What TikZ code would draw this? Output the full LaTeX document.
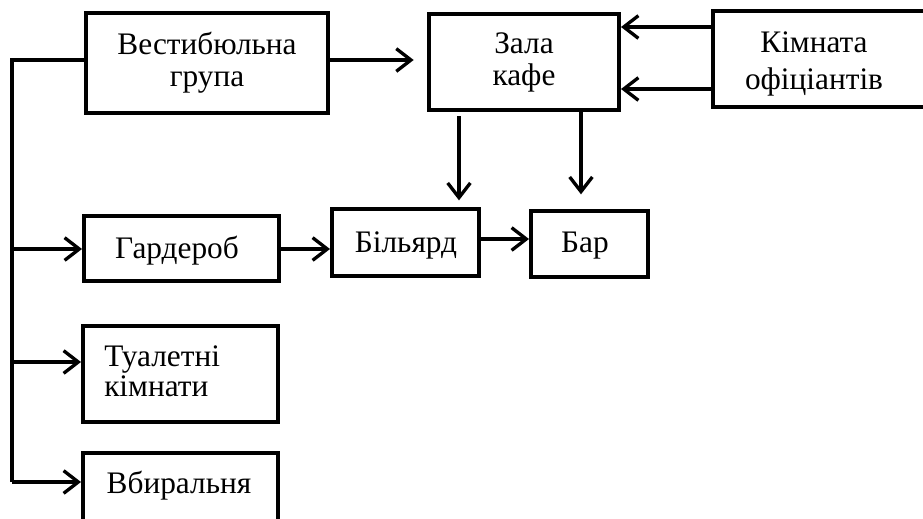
\documentclass[tikz,border=0pt]{standalone}
\usepackage{fontspec}
\setmainfont{Liberation Serif}
\usetikzlibrary{arrows.meta,calc}
\begin{document}
\begin{tikzpicture}[x=0.75pt,y=-0.75pt,
  box/.style={draw,line width=3pt,rectangle,inner sep=0pt,align=center,
    font=\fontsize{23.5}{24}\selectfont},
  lbl/.style={inner sep=0pt,font=\fontsize{23.5}{24}\selectfont},
  conn/.style={line width=2.5pt},
  arr/.style={line width=2.5pt,-{Straight Barb[length=11pt,width=17pt,line width=2.5pt]}}]
\useasboundingbox (0,0) rectangle (923,518);
\clip (0,0) rectangle (923,518);
\fill[white] (0,0) rectangle (923,518);
% boxes
\node[box,minimum width=181.5pt,minimum height=75pt] (vest) at (207,63) {Вестибюльна\\група};
\node[box,minimum width=142.5pt,minimum height=72pt] (zala) at (524,62) {Зала\\кафе};
\node[box,minimum width=185.25pt,minimum height=72pt] (kimn) at (836.5,59) {};
\node[lbl,align=center] (kimnt) at (814,64) {Кімната\\[3.5pt]офіціантів};
\node[box,minimum width=146.25pt,minimum height=48.75pt] (gard) at (181.5,248.5) {};
\node[lbl,anchor=base] (gardt) at (177,258) {Гардероб};
\node[box,minimum width=146.25pt,minimum height=72pt] (tual) at (180.5,374) {};
\node[lbl,align=left,anchor=west] (tualt) at (104,371) {Туалетні\\[-1.5pt]кімнати};
\node[box,minimum width=146.25pt,minimum height=65.25pt] (vbyr) at (180.5,496.5) {};
\node[lbl,anchor=base] (vbyrt) at (179,493) {Вбиральня};
\node[box,minimum width=110.25pt,minimum height=50.25pt] (bil) at (405.5,242.5) {};
\node[lbl,anchor=base] (bilt) at (406,252) {Більярд};
\node[box,minimum width=87.75pt,minimum height=49.5pt] (bar) at (589.5,244) {};
\node[lbl,anchor=base] (bart) at (585,252) {Бар};
% helper coordinates
\coordinate (bus) at (12,60);
\coordinate (busend) at (12,482);
\coordinate (vy) at (0,60);
\coordinate (k1) at (0,27);
\coordinate (k2) at (0,89);
\coordinate (d1) at (459,0);
\coordinate (d2) at (581,0);
\coordinate (gy) at (0,249);
\coordinate (ty) at (0,362);
\coordinate (by) at (0,482);
\coordinate (bb) at (0,239);
% connectors
\draw[conn] (vest.west |- vy) -- (bus) -- (busend);
\draw[arr,shorten >=10pt] (vest.east |- vy) -- (zala.west |- vy);
\draw[arr] (kimn.west |- k1) -- (zala.east |- k1);
\draw[arr] (kimn.west |- k2) -- (zala.east |- k2);
\draw[arr,shorten <=3pt,shorten >=5pt] (zala.south -| d1) -- (bil.north -| d1);
\draw[arr,shorten >=11pt] (zala.south -| d2) -- (bar.north -| d2);
\draw[arr] (bus |- gy) -- (gard.west |- gy);
\draw[arr] (bus |- ty) -- (tual.west |- ty);
\draw[arr] (busend) -- (vbyr.west |- by);
\draw[arr] (gard.east |- gy) -- (bil.west |- gy);
\draw[arr] (bil.east |- bb) -- (bar.west |- bb);
\end{tikzpicture}
\end{document}
